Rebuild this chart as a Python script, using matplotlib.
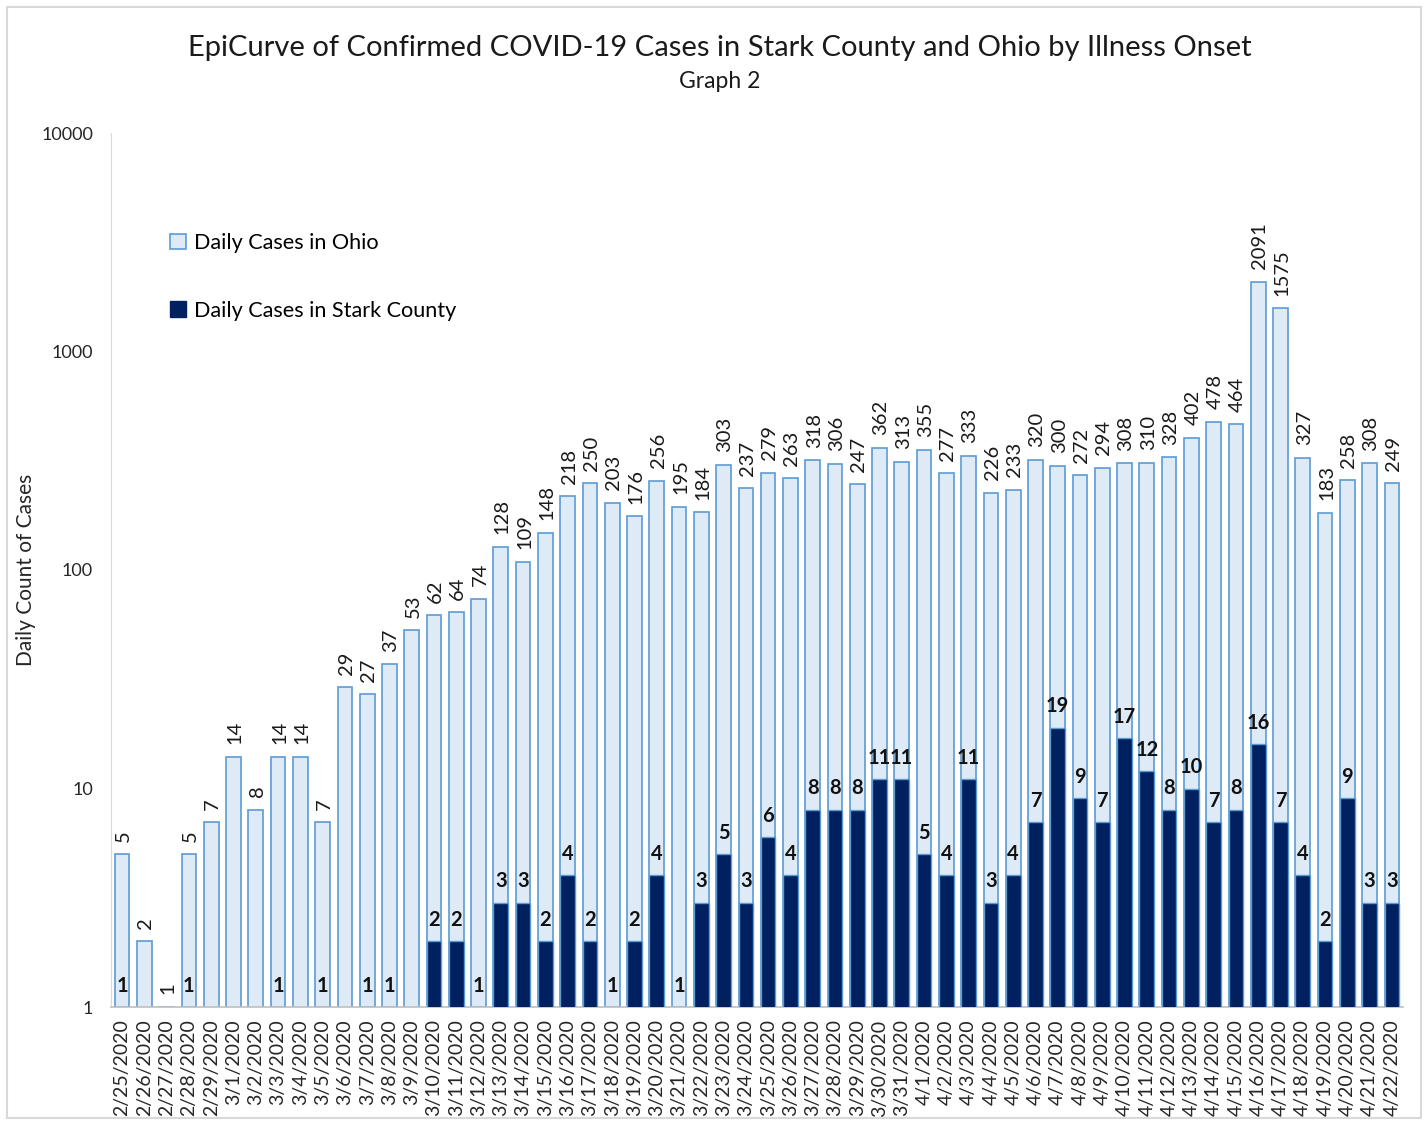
import matplotlib.pyplot as plt
from matplotlib.patches import Patch, Rectangle
from matplotlib.ticker import NullLocator
import numpy as np

dates = ['2/25/2020', '2/26/2020', '2/27/2020', '2/28/2020', '2/29/2020'] + \
        [f'3/{d}/2020' for d in range(1, 32)] + [f'4/{d}/2020' for d in range(1, 23)]

ohio = [5, 2, 1, 5, 7,
        14, 8, 14, 14, 7, 29, 27, 37, 53, 62, 64, 74, 128, 109, 148, 218, 250, 203, 176,
        256, 195, 184, 303, 237, 279, 263, 318, 306, 247, 362, 313,
        355, 277, 333, 226, 233, 320, 300, 272, 294, 308, 310, 328, 402, 478, 464,
        2091, 1575, 327, 183, 258, 308, 249]

# 0 = no Stark County cases that day (no label drawn)
stark = [1, 0, 0, 1, 0,
         0, 0, 1, 0, 1, 0, 1, 1, 0, 2, 2, 1, 3, 3, 2, 4, 2, 1, 2,
         4, 1, 3, 5, 3, 6, 4, 8, 8, 8, 11, 11,
         5, 4, 11, 3, 4, 7, 19, 9, 7, 17, 12, 8, 10, 7, 8,
         16, 7, 4, 2, 9, 3, 3]

plt.rcParams['font.family'] = ['Lato', 'DejaVu Sans']

W, H = 1428, 1122
fig = plt.figure(figsize=(W / 100, H / 100), dpi=100)
ax = fig.add_axes([111 / W, 1 - 1007 / H, (1403 - 111) / W, (1007 - 133) / H])

x = np.arange(len(dates))
light = '#DEEBF7'
edge = '#5B9BD5'
navy = '#002060'

ax.bar(x, ohio, width=0.66, color=light, edgecolor=edge, linewidth=1.2, zorder=2)
st = np.array(stark)
has = st > 0
ax.bar(x[has], st[has], width=0.66, color=navy, edgecolor=edge, linewidth=1.0, zorder=3)

ax.set_yscale('log')
ax.set_ylim(1, 10000)
ax.set_xlim(-0.5, len(dates) - 0.5)
ax.set_yticks([1, 10, 100, 1000, 10000])
ax.set_yticklabels(['1', '10', '100', '1000', '10000'])
ax.yaxis.set_minor_locator(NullLocator())
ax.tick_params(axis='y', length=0, pad=13, labelsize=13, labelcolor='#262626')
ax.set_xticks(x)
ax.set_xticklabels(dates, rotation=90)
ax.tick_params(axis='x', length=0, pad=9, labelsize=14, labelcolor='#262626')

for s in ['top', 'right']:
    ax.spines[s].set_visible(False)
ax.spines['left'].set_color('#D9D9D9')
ax.spines['bottom'].set_color('#BFBFBF')
ax.spines['bottom'].set_linewidth(1.2)

# Ohio labels, rotated, above the light bars
for xi, v in zip(x, ohio):
    ax.annotate(str(v), (xi, v), xytext=(0, 9), textcoords='offset points',
                rotation=90, rotation_mode='anchor', ha='left', va='center_baseline',
                fontsize=14.5, color='#1a1a1a', zorder=5)

# Stark labels, bold, above the navy bars
for xi, v in zip(x, stark):
    if v > 0:
        ax.annotate(str(v), (xi, v), xytext=(0, 11), textcoords='offset points',
                    ha='center', va='baseline', fontsize=14.5, fontweight='bold',
                    color='#111111', zorder=5)

fig.text(26 / W, 1 - 570 / H, 'Daily Count of Cases', rotation=90, ha='center', va='center',
         fontsize=15, color='#262626')

fig.text(720 / W, 1 - 48 / H,
         'EpiCurve of Confirmed COVID-19 Cases in Stark County and Ohio by Illness Onset',
         ha='center', va='center', fontsize=21, color='#1a1a1a')
fig.text(720 / W, 1 - 82 / H, 'Graph 2', ha='center', va='center', fontsize=16.5, color='#1a1a1a')

handles = [Patch(facecolor=light, edgecolor=edge, linewidth=1.2, label='Daily Cases in Ohio'),
           Patch(facecolor=navy, edgecolor=navy, label='Daily Cases in Stark County')]
fig.legend(handles=handles, loc='upper left', bbox_to_anchor=(170 / W, 1 - 233 / H),
           frameon=False, fontsize=15.6, handlelength=0.72, handleheight=0.72,
           handletextpad=0.4, labelspacing=2.2, borderpad=0, borderaxespad=0)

fig.add_artist(Rectangle((7 / W, 4 / H), (1421 - 7) / W, (1118 - 7) / H,
                         transform=fig.transFigure, fill=False, edgecolor='#D9D9D9', linewidth=1.5))

fig.savefig('out.png', dpi=100)
